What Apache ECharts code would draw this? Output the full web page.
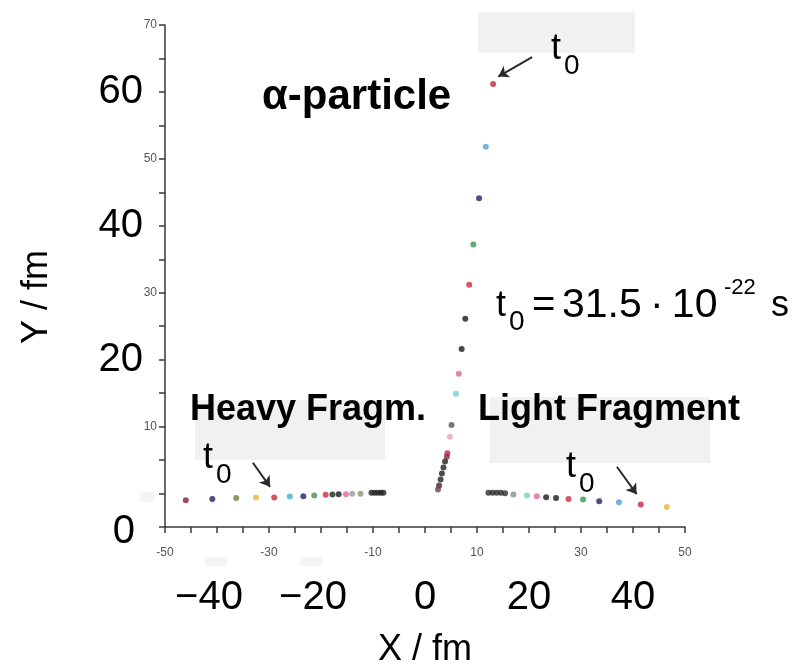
<!DOCTYPE html>
<html>
<head>
<meta charset="utf-8">
<title>Ternary fission trajectories</title>
<script src="https://cdn.jsdelivr.net/npm/echarts@6/dist/echarts.min.js"></script>
<style>
  html, body { margin: 0; padding: 0; background: #fff; }
  #main { width: 810px; height: 670px; }
</style>
</head>
<body>
<div id="main"></div>
<script>
// positions in fm, each list runs from the latest time step backwards
var alphaX = [13.1, 11.7, 10.4, 9.3, 8.5, 7.75, 7.05, 6.5, 5.95, 5.1, 4.8, 4.3, 4.2, 3.85, 3.55, 3.25, 3.0, 2.7, 2.5];
var alphaY = [61.2, 51.8, 44.1, 37.2, 31.2, 26.1, 21.6, 17.9, 14.9, 10.25, 8.5, 6.0, 5.5, 4.8, 3.9, 3.0, 2.1, 1.2, 0.6];
var heavyX = [-46.0, -40.9, -36.3, -32.5, -29.0, -26.0, -23.4, -21.3, -19.1, -17.8, -16.6, -15.2, -14.0, -12.4, -10.3, -9.7, -9.1, -8.5, -8.0];
var heavyY = [-1.0, -0.8, -0.65, -0.6, -0.6, -0.45, -0.4, -0.3, -0.2, -0.15, -0.1, -0.1, -0.05, -0.05, 0.1, 0.1, 0.1, 0.1, 0.1];
var lightX = [46.5, 41.5, 37.3, 33.5, 30.4, 27.6, 25.2, 23.3, 21.5, 19.6, 17.0, 15.4, 14.6, 13.8, 13.0, 12.2];
var lightY = [-2.0, -1.65, -1.3, -1.15, -0.9, -0.8, -0.65, -0.55, -0.4, -0.3, -0.15, 0.05, 0.1, 0.1, 0.1, 0.1];

// arrows pointing at the t0 positions: [from, to] in fm
var alphaArrow = [[20.6, 65.2], [14.1, 62.3]];
var heavyArrow = [[-33.1, 4.6], [-29.8, 1.0]];
var lightArrow = [[36.9, 4.0], [40.7, -0.1]];

// tick values
var xSmallTicks = [-50, -30, -10, 10, 30, 50];
var xBigTicks = [-40, -20, 0, 20, 40];
var ySmallTicks = [10, 30, 50, 70];
var yBigTicks = [20, 40, 60];

// colours of each time step
var alphaColors = ['#c9243f', '#5a9fd0', '#1c2363', '#3d9448', '#cc2a40', '#1a1a1a', '#1a1a1a', '#d9679d', '#6fd0d0', '#4a5a5a', '#e7a5c0', '#c9243f', '#8a2a3a', '#222', '#222', '#222', '#222', '#3a2a30', '#7a3a4a'];
var heavyColors = ['#7a2340', '#1f2060', '#6f7a3e', '#e8b83c', '#c9243f', '#3fb0c4', '#1c2363', '#3d9448', '#cc2a40', '#1e2a22', '#1a1a1a', '#d9679d', '#9a9a9a', '#8a9a70', '#222', '#222', '#222', '#222', '#222'];
var lightColors = ['#e8b83c', '#c9243f', '#4f9fd0', '#1c2363', '#3d9448', '#cc2a40', '#1a1a1a', '#1a1a1a', '#d9679d', '#7fd0b0', '#8a8a8a', '#3a2a30', '#2a2a2a', '#2a2a2a', '#2a2a2a', '#2a2a2a'];

var FONT = "'Liberation Sans', Arial, sans-serif";
var SMALL_FONT = "'Liberation Sans Narrow', 'Liberation Sans', Arial, sans-serif";
var AXIS_COLOR = '#3a3a3a';

function points(xs, ys, colors) {
    return xs.map(function (x, i) {
        return { value: [x, ys[i]], itemStyle: { color: colors[i] } };
    });
}

function arrow(pair) {
    return {
        silent: true,
        symbol: ['none', 'arrow'],
        symbolSize: 10,
        label: { show: false },
        lineStyle: { color: '#2a2a2a', width: 2, type: 'solid' },
        data: [[{ coord: pair[0] }, { coord: pair[1] }]]
    };
}

function txt(text, x, y, size, weight) {
    return {
        type: 'text', x: x, y: y, z: 100,
        style: { text: text, fontSize: size, fontWeight: weight || 'normal', fontFamily: FONT, fill: '#000', verticalAlign: 'middle' }
    };
}

// "t" with a subscript 0
function tZero(x, y) {
    return [txt('t', x, y, 36), txt('0', x + 13, y + 17, 28)];
}

function greyBox(x, y, w, h, fill) {
    return { type: 'rect', z: -10, shape: { x: x, y: y, width: w, height: h }, style: { fill: fill || '#f1f1f1' } };
}

var graphics = [
    greyBox(478, 12, 157, 41),
    greyBox(195, 400, 190, 60),
    greyBox(490, 397, 220, 66),
    greyBox(140, 492, 14, 10, '#f4f4f4'),
    greyBox(205, 557, 22, 9, '#f4f4f4'),
    greyBox(300, 557, 22, 9, '#f4f4f4'),
    txt('\u03b1-particle', 262, 97, 42, 'bold'),
    txt('Heavy Fragm.', 190, 410, 36, 'bold'),
    txt('Light Fragment', 478, 410, 36, 'bold'),
    txt('t', 496, 306, 36),
    txt('0', 509, 322, 28),
    txt('=', 532, 306, 40),
    txt('31.5\u2009\u00b7\u200910', 562, 306, 41),
    txt('-22', 724, 288, 22),
    txt('s', 771, 306, 36)
].concat(tZero(551, 49), tZero(203, 458), tZero(566, 467));

var myChart = echarts.init(document.getElementById('main'));
var option = {
    backgroundColor: '#fff',
    animation: false,
    grid: {
        left: 165,
        right: 125,
        top: 25,
        bottom: 143,
        outerBoundsMode: 'none'
    },
    xAxis: [
        {
            type: 'value',
            min: -50,
            max: 50,
            interval: 5,
            splitLine: { show: false },
            axisLine: { onZero: false, lineStyle: { color: AXIS_COLOR, width: 1.5 } },
            axisTick: { length: 6, lineStyle: { color: AXIS_COLOR, width: 1.5 } },
            axisLabel: {
                margin: 20,
                color: '#555',
                fontSize: 12,
                fontFamily: SMALL_FONT,
                formatter: function (v) { return xSmallTicks.indexOf(v) >= 0 ? String(v) : ''; }
            }
        },
        {
            type: 'value',
            position: 'bottom',
            min: -50,
            max: 50,
            interval: 10,
            splitLine: { show: false },
            axisLine: { show: false, onZero: false },
            axisTick: { show: false },
            axisLabel: {
                margin: 51,
                color: '#000',
                fontSize: 40,
                fontFamily: FONT,
                formatter: function (v) {
                    if (xBigTicks.indexOf(v) < 0) return '';
                    return v < 0 ? '{n|\u2212' + (-v) + '}' : String(v);
                },
                rich: { n: { fontSize: 40, fontFamily: FONT, color: '#000', padding: [0, 16, 0, 0] } }
            },
            name: 'X / fm',
            nameLocation: 'middle',
            nameGap: 105,
            nameTextStyle: { fontSize: 36, fontFamily: FONT, color: '#000' }
        }
    ],
    yAxis: [
        {
            type: 'value',
            min: -5,
            max: 70,
            interval: 5,
            splitLine: { show: false },
            axisLine: { onZero: false, lineStyle: { color: AXIS_COLOR, width: 1.5 } },
            axisTick: { length: 6, lineStyle: { color: AXIS_COLOR, width: 1.5 } },
            axisLabel: {
                margin: 8,
                color: '#555',
                fontSize: 12,
                fontFamily: SMALL_FONT,
                formatter: function (v) { return ySmallTicks.indexOf(v) >= 0 ? String(v) : ''; }
            }
        },
        {
            type: 'value',
            position: 'left',
            min: -5,
            max: 70,
            interval: 5,
            splitLine: { show: false },
            axisLine: { show: false, onZero: false },
            axisTick: { show: false },
            axisLabel: {
                margin: 22,
                color: '#000',
                fontSize: 40,
                fontFamily: FONT,
                // the big "0" sits at the corner of the frame
                formatter: function (v) {
                    if (v === -5) return '{z|0}';
                    return yBigTicks.indexOf(v) >= 0 ? String(v) : '';
                },
                rich: { z: { fontSize: 40, fontFamily: FONT, color: '#000', padding: [10, 8, 0, 0] } }
            },
            name: 'Y / fm',
            nameLocation: 'middle',
            nameGap: 110,
            nameRotate: 90,
            nameTextStyle: { fontSize: 36, fontFamily: FONT, color: '#000', padding: [0, 42, 0, 0] }
        }
    ],
    graphic: graphics,
    series: [
        {
            name: 'Heavy Fragm.',
            type: 'scatter',
            symbolSize: 6,
            data: points(heavyX, heavyY, heavyColors),
            markLine: arrow(heavyArrow)
        },
        {
            name: 'Light Fragment',
            type: 'scatter',
            symbolSize: 6,
            data: points(lightX, lightY, lightColors),
            markLine: arrow(lightArrow)
        },
        {
            name: '\u03b1-particle',
            type: 'scatter',
            symbolSize: 6,
            data: points(alphaX, alphaY, alphaColors),
            markLine: arrow(alphaArrow)
        }
    ]
};
myChart.setOption(option);
</script>
</body>
</html>
